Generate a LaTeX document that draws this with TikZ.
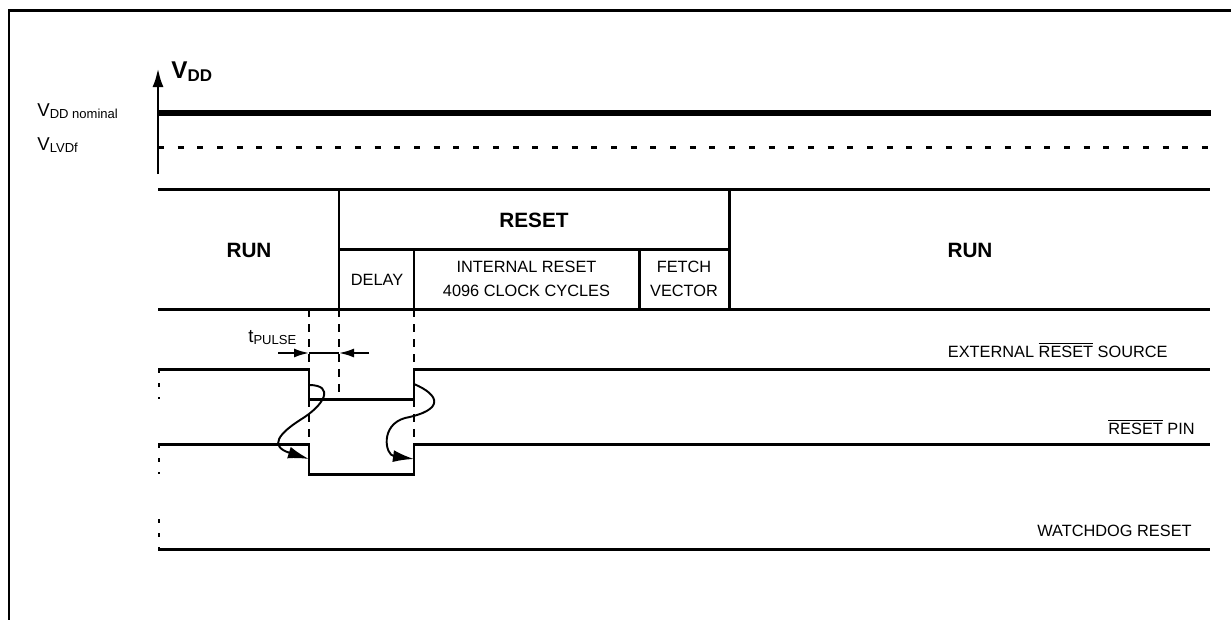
\documentclass[tikz,border=0pt]{standalone}
\usepackage{fontspec}
\setmainfont{Liberation Sans}
\usetikzlibrary{arrows.meta}
\begin{document}
\begin{tikzpicture}[x=0.02cm,y=-0.02cm,
  ln/.style={line width=1.7pt},
  thinln/.style={line width=1.1pt},
  thickln/.style={line width=2.9pt},
  hdash/.style={line width=1.7pt,dash pattern=on 0.12cm off 0.274cm},
  vdash/.style={line width=1.7pt,dash pattern=on 0.16cm off 0.14cm},
  ldash/.style={line width=1.7pt,dash pattern=on 0.08cm off 0.2cm},
  norm/.style={inner sep=0pt,font=\fontsize{9.3}{13.6}\selectfont},
  lbl/.style={inner sep=0pt,font=\fontsize{10.6}{13}\selectfont},
  bigbold/.style={inner sep=0pt,font=\fontsize{11.8}{14}\selectfont\bfseries},
  curvearrow/.style={thinln,-{Latex[length=0.42cm,width=0.24cm]}},
  pulsearrow/.style={thinln,-{Latex[length=0.3cm,width=0.18cm]}}
]
\useasboundingbox (0,0) rectangle (1231,620);
% frame
\draw[ln] (1231,10) -- (9,10) -- (9,620);
% VDD axis
\coordinate (axb) at (158,174);
\coordinate (axt) at (158,68);
\draw[ln,-{Latex[length=0.38cm,width=0.22cm]}] (axb) -- (axt);
\node[anchor=base west,inner sep=0pt,font=\fontsize{13.8}{15}\selectfont\bfseries] (vdd) at (171,78) {V\textsubscript{DD}};
\node[lbl,anchor=base west] (vnom) at (37,116) {V\textsubscript{DD nominal}};
\node[lbl,anchor=base west] (vlvd) at (37,150) {V\textsubscript{LVDf}};
\draw[thickln] (158,113) -- (1211,113);
\draw[hdash] (158,147) -- (1210,147);
% table
\draw[ln] (158,189) -- (1210,189);
\draw[ln] (158,309) -- (1210,309);
\draw[ln] (339,189) -- (339,309);
\draw[ln] (729,189) -- (729,309);
\draw[ln] (339,249) -- (729,249);
\draw[ln] (414,249) -- (414,309);
\draw[ln] (639,249) -- (639,309);
\node[bigbold] (run1) at (249,250) {RUN};
\node[bigbold] (reset) at (534,220) {RESET};
\node[norm] (delay) at (377,280) {DELAY};
\node[norm,align=center] (intr) at (526.5,279) {INTERNAL RESET\\4096 CLOCK CYCLES};
\node[norm,align=center] (fetch) at (684,279) {FETCH\\VECTOR};
\node[bigbold] (run2) at (970,250) {RUN};
% vertical dashed guides
\draw[vdash] (309,309) -- (309,444);
\draw[vdash] (339,309) -- (339,399);
\draw[vdash] (414,309) -- (414,444);
% left dashed level marks
\draw[ldash] (159,369) -- (159,399);
\draw[ldash] (159,444) -- (159,474);
\draw[ldash] (159,519) -- (159,549);
% signals
\draw[ln] (158,369) -- (309,369) -- (309,399) -- (414,399) -- (414,369) -- (1210,369);
\draw[ln] (158,444) -- (309,444) -- (309,474) -- (414,474) -- (414,444) -- (1210,444);
\draw[ln] (158,549) -- (1210,549);
% tpulse
\node[lbl,anchor=base west] (tp) at (248,342) {t\textsubscript{PULSE}};
\coordinate (pa) at (278,353);
\coordinate (pb) at (309,353);
\coordinate (pc) at (339,353);
\coordinate (pd) at (369,353);
\draw[thinln] (pb) -- (pc);
\draw[pulsearrow] (pa) -- (pb);
\draw[pulsearrow] (pd) -- (pc);
% causal curves
\coordinate (e1) at (309,385);
\coordinate (p1) at (309,459);
\coordinate (e2) at (414,384);
\coordinate (p2) at (414,459);
\draw[curvearrow] (e1) .. controls (335,385) and (325,405) .. (300,420) .. controls (280,433) and (268,446) .. (p1);
\draw[curvearrow] (e2) .. controls (440,395) and (445,410) .. (405,418) .. controls (380,425) and (385,455) .. (p2);
% signal labels
\node[norm,anchor=base east] (lext) at (1168,357) {EXTERNAL $\overline{\mbox{RESET}}$ SOURCE};
\node[norm,anchor=base east] (lpin) at (1195,434) {$\overline{\mbox{RESET}}$ PIN};
\node[norm,anchor=base east] (lwd) at (1192,536) {WATCHDOG RESET};
\end{tikzpicture}
\end{document}
